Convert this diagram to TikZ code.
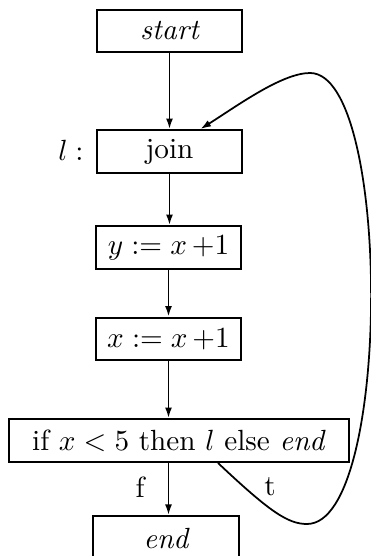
\documentclass[tikz,border=0pt]{standalone}
\usetikzlibrary{arrows.meta,calc}
\begin{document}
\begin{tikzpicture}[x=0.3425pt,y=0.3425pt,
  blk/.style={draw,line width=0.7pt,inner sep=0pt,minimum width=49.7pt,minimum height=14.7pt},
  conn/.style={line width=0.6pt,-{Latex[length=3.6pt,width=2.4pt]}},
  lbl/.style={inner sep=0pt}]
\useasboundingbox (0,0) rectangle (371,556);
\clip (0,0) rectangle (371,556);
\node[blk] (start) at (169.5,525) {\itshape start};
\node[blk] (join) at (169.5,404.5) {join};
\node[blk] (yb) at (168.5,308.5) {$y := x\,{+}1$};
\node[blk] (xb) at (168.5,217) {$x := x\,{+}1$};
\node[blk,minimum width=116.5pt] (ifb) at (179,115.5) {if $x<5$ then $l$ else \textit{end}};
\node[blk,minimum height=15.8pt,minimum width=50pt] (endb) at (166,17) {\itshape end};
\node[lbl,anchor=east] (lab) at (84,406) {$l$\hspace{2.6pt}:};
\node[lbl] (f) at (140,69) {f};
\node[lbl] (t) at (270,69) {t};
\coordinate (ts) at ($(ifb.south)+(39,0)$);
\coordinate (te) at ($(join.north)+(31,0)$);
\draw[conn] (start) -- (start|-join.north);
\draw[conn] (join) -- (join|-yb.north);
\draw[conn] (yb) -- (yb|-xb.north);
\draw[conn] (xb) -- (xb|-ifb.north);
\draw[conn] (xb|-ifb.south) -- (xb|-endb.north);
\draw[conn] (ts) .. controls (270,44) and (288,32) .. (307,32)
  .. controls (392,32) and (392,483) .. (310,483)
  .. controls (282,483) and (237,450) .. (te);
\end{tikzpicture}
\end{document}
